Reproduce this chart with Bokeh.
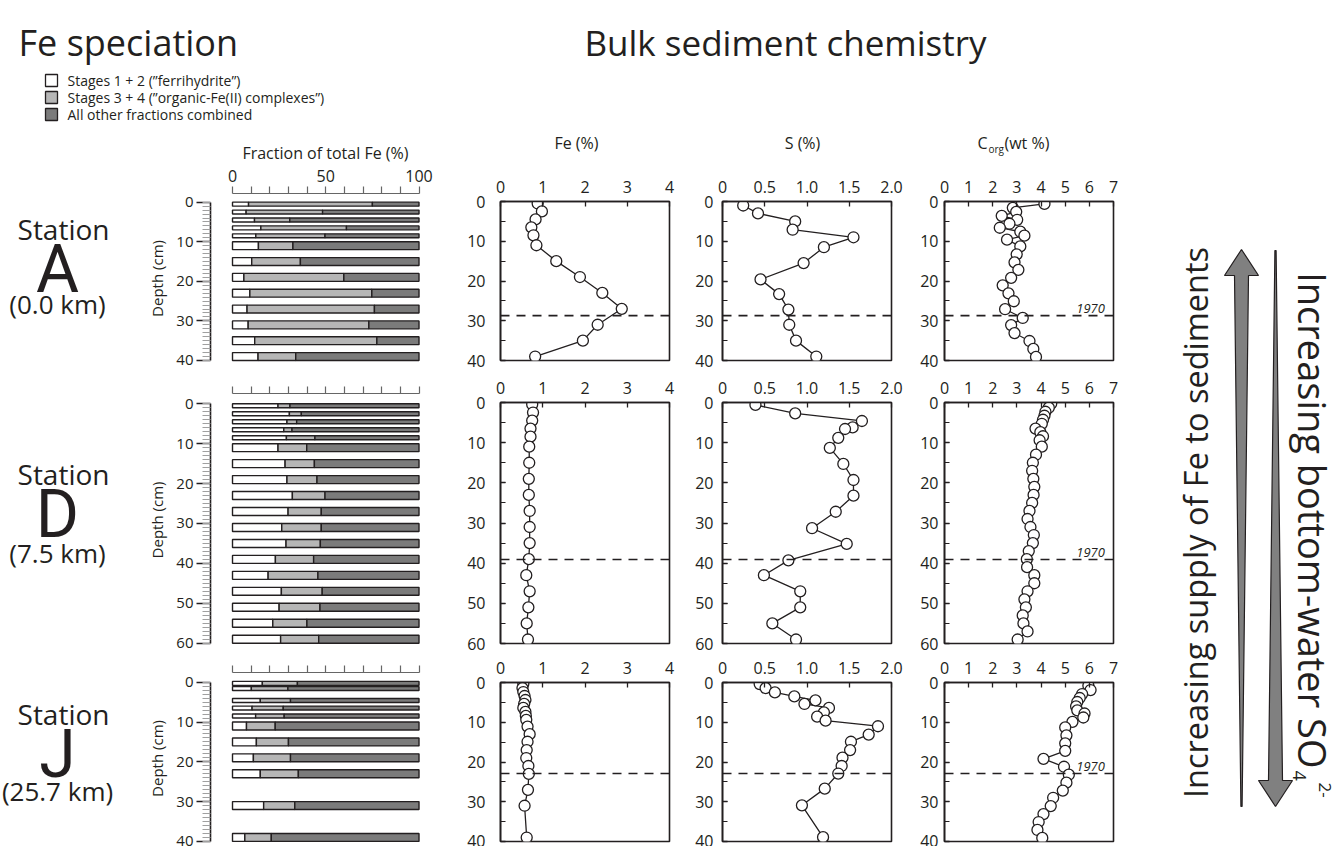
import math
from bokeh.plotting import figure
from bokeh.models import Range1d, FixedTicker, Span, Label, PrintfTickFormatter, ColumnDataSource
from bokeh.layouts import row, column
from bokeh.embed import file_html
from bokeh.resources import INLINE
from bokeh.core.properties import value

FONT = "Open Sans"
BIG_FONT = "Roboto"
INK = "#231f20"
WHITE_FILL = "#ffffff"
LIGHT_FILL = "#b6b6b6"
DARK_FILL = "#7b7b7b"

# ---------------- data ----------------
# Fe speciation bars: depth centre (cm), sample thickness (cm), stages 1+2 (%), stages 3+4 (%)
a_bar_depth = [0.5, 2.5, 4.5, 6.5, 8.5, 11, 15, 19, 23, 27, 31, 35, 39]
a_bar_thick = [1, 1, 1, 1, 1, 2, 2, 2, 2, 2, 2, 2, 2]
a_st12 = [8.6, 7.3, 11.8, 15.2, 12.5, 13.9, 10.3, 6.1, 9.3, 7.8, 8.4, 11.9, 13.7]
a_st34 = [66.4, 41.0, 18.9, 45.9, 37.1, 18.5, 26.1, 53.6, 65.4, 68.3, 64.7, 65.5, 20.2]

d_bar_depth = [0.5, 2.5, 4.5, 6.5, 8.5, 11, 15, 19, 23, 27, 31, 35, 39, 43, 47, 51, 55, 59]
d_bar_thick = [1, 1, 1, 1, 1, 2, 2, 2, 2, 2, 2, 2, 2, 2, 2, 2, 2, 2]
d_st12 = [24.4, 30.5, 29.2, 27.5, 28.9, 24.4, 28.2, 29.2, 32.1, 29.8, 26.4, 28.7, 23.0, 19.1, 26.2, 25.0, 21.6, 25.8]
d_st34 = [6.4, 6.4, 5.2, 4.4, 15.3, 15.4, 15.7, 16.1, 17.5, 17.8, 21.2, 18.4, 20.5, 26.7, 21.9, 21.9, 18.3, 20.4]

j_bar_depth = [0.3, 1.6, 4.6, 6.5, 8.5, 11, 15, 19, 23, 31, 39]
j_bar_thick = [1, 1, 1, 1, 1, 2, 2, 2, 2, 2, 2]
j_st12 = [16.0, 10.1, 14.9, 10.5, 12.4, 7.5, 12.8, 11.2, 14.9, 16.7, 6.6]
j_st34 = [18.8, 19.6, 16.2, 16.7, 15.3, 15.4, 17.2, 19.9, 20.4, 16.7, 14.2]

# Bulk chemistry profiles
a_fe_depth = [0.5, 2.5, 4.5, 6.5, 8.5, 11, 15, 19, 23, 27, 31, 35, 39]
a_fe = [0.88, 0.98, 0.83, 0.73, 0.78, 0.85, 1.32, 1.88, 2.41, 2.87, 2.30, 1.95, 0.82]
a_s_depth = [1.0, 3.0, 5.0, 7.1, 9.0, 11.5, 15.5, 19.6, 23.3, 27.2, 31.0, 35.0, 39.0]
a_s = [0.245, 0.42, 0.86, 0.83, 1.55, 1.20, 0.96, 0.45, 0.67, 0.78, 0.79, 0.87, 1.11]
a_c_depth = [0.6, 1.6, 2.6, 3.6, 4.6, 5.6, 6.6, 7.6, 8.6, 9.6, 11.3, 13.3, 15.3, 17.2, 19.2,
             21.1, 23.1, 25.1, 27.1, 29.3, 31.1, 33.1, 35.1, 37.1, 39.1]
a_c = [4.14, 2.83, 2.97, 2.37, 3.01, 2.69, 2.29, 3.14, 3.31, 2.59, 3.14, 2.99, 2.90, 3.06, 2.76,
       2.41, 2.65, 2.87, 2.51, 3.24, 2.76, 2.90, 3.52, 3.68, 3.79]

d_fe_depth = [0.5, 2.5, 4.5, 6.5, 8.5, 11, 15, 19, 23, 27, 31, 35, 39, 43, 47, 51, 55, 59]
d_fe = [0.75, 0.77, 0.75, 0.71, 0.71, 0.68, 0.68, 0.67, 0.67, 0.69, 0.69, 0.69, 0.67, 0.61, 0.69, 0.66, 0.62, 0.65]
d_s_depth = [0.6, 2.7, 4.6, 6.2, 6.6, 8.8, 11.3, 15.3, 19.3, 23.2, 27.2, 31.3, 35.2, 39.3, 43.0, 47.0, 51.0, 55.0, 59.0]
d_s = [0.39, 0.86, 1.65, 1.54, 1.45, 1.37, 1.27, 1.43, 1.55, 1.55, 1.34, 1.06, 1.47, 0.78, 0.49, 0.92, 0.92, 0.59, 0.87]
d_c_depth = [0.3, 1.3, 2.3, 3.3, 4.3, 5.3, 6.5, 7.4, 8.4, 9.4, 11, 13, 15, 17, 19, 21, 23, 25, 27, 29,
             31, 33, 35, 37, 39, 41, 43, 45, 47, 49, 51, 53, 55, 57, 59]
d_c = [4.42, 4.32, 4.18, 4.14, 4.08, 4.03, 3.77, 3.97, 4.08, 3.94, 4.03, 3.79, 3.66, 3.63, 3.68, 3.72, 3.69,
       3.63, 3.52, 3.44, 3.56, 3.70, 3.66, 3.49, 3.41, 3.42, 3.72, 3.72, 3.44, 3.31, 3.37, 3.24, 3.27, 3.44, 3.03]

j_fe_depth = [0.4, 1.4, 2.4, 3.4, 4.4, 5.4, 6.4, 7.4, 8.4, 9.4, 11.1, 13, 14.9, 17, 19, 21, 23, 27, 31, 39]
j_fe = [0.54, 0.52, 0.54, 0.57, 0.59, 0.56, 0.54, 0.59, 0.60, 0.61, 0.64, 0.69, 0.64, 0.62, 0.61, 0.66, 0.67, 0.65, 0.57, 0.62]
j_s_depth = [0.4, 1.4, 2.5, 3.5, 4.5, 5.4, 6.4, 7.5, 8.6, 9.6, 11, 13.1, 14.9, 17, 18.9, 21, 22.9, 26.7, 30.9, 38.9]
j_s = [0.44, 0.51, 0.62, 0.85, 1.10, 0.97, 1.26, 1.20, 1.12, 1.22, 1.84, 1.73, 1.52, 1.51, 1.42, 1.41, 1.37, 1.21, 0.94, 1.19]
j_c_depth = [0.8, 1.9, 2.9, 3.9, 4.9, 6.0, 7.0, 7.8, 8.8, 9.9, 11.3, 13.3, 15.3, 17.2, 19.2, 21.2, 23.2,
             25.2, 27.2, 29.0, 31.1, 33.1, 35.1, 37.1, 39.1]
j_c = [5.96, 6.05, 5.7, 5.6, 5.5, 5.45, 5.5, 5.8, 5.75, 5.3, 5.0, 5.05, 5.0, 5.0, 4.1, 4.95, 5.15,
       5.05, 4.9, 4.5, 4.4, 4.1, 3.9, 3.85, 4.05]

# depth of the 1970 horizon (cm)
a_1970 = 28.7
d_1970 = 39.1
j_1970 = 22.9

fe_ticks = [0, 1, 2, 3, 4]
s_ticks = [0, 0.5, 1.0, 1.5, 2.0]
c_ticks = [0, 1, 2, 3, 4, 5, 6, 7]
bar_ticks = list(range(0, 101, 10))

legend_labels = ["Stages 1 + 2 (\u201dferrihydrite\u201d)",
                 "Stages 3 + 4 (\u201dorganic-Fe(II) complexes\u201d)",
                 "All other fractions combined"]


# ---------------- helpers ----------------
def canvas(w, h, flip=True):
    p = figure(width=w, height=h, x_range=Range1d(0, w),
               y_range=Range1d(h, 0) if flip else Range1d(0, h),
               x_axis_type=None, y_axis_type=None, output_backend="svg",
               toolbar_location=None, min_border=0, title=None, frame_align=False)
    p.grid.visible = False
    p.outline_line_color = None
    p.background_fill_color = "white"
    p.border_fill_color = "white"
    return p


def txt(p, x, y, s, size, align="center", baseline="middle", angle=0, style="normal", font=FONT):
    p.text(x=[x], y=[y], text=[s], text_font=value(font), text_font_size=size,
           text_align=align, text_baseline=baseline, angle=angle, text_color=INK,
           text_font_style=style)


def bar_panel(depth, thick, s12, s34, dmax, height, bt, bb, ytop, ybot, labels):
    e34 = [a + b for a, b in zip(s12, s34)]
    src = ColumnDataSource(dict(y=depth, h=thick, r0=s12, r1=e34, r2=[100] * len(depth)))
    p = figure(width=302, height=height, x_range=Range1d(-11.8, 100.8),
               y_range=Range1d(ybot, ytop), x_axis_location="above",
               output_backend="svg", toolbar_location=None, title=None, frame_align=False,
               min_border_left=72, min_border_right=20, min_border_top=bt, min_border_bottom=bb)
    p.grid.visible = False
    p.outline_line_color = None
    p.hbar(y="y", height="h", left=0, right="r0", source=src, fill_color=WHITE_FILL,
           line_color=INK, line_width=1.4)
    p.hbar(y="y", height="h", left="r0", right="r1", source=src, fill_color=LIGHT_FILL,
           line_color=INK, line_width=1.4)
    p.hbar(y="y", height="h", left="r1", right="r2", source=src, fill_color=DARK_FILL,
           line_color=INK, line_width=1.4)
    xa = p.xaxis[0]
    xa.ticker = FixedTicker(ticks=bar_ticks)
    xa.bounds = (0, 100)
    xa.major_tick_in = 0
    xa.major_tick_out = 7
    xa.minor_tick_line_color = None
    xa.axis_line_color = "#666666"
    xa.major_tick_line_color = "#666666"
    xa.axis_line_width = 1.2
    xa.major_tick_line_width = 1.2
    if labels:
        xa.major_label_overrides = {t: "" for t in bar_ticks if t not in (0, 50, 100)}
    else:
        xa.major_label_overrides = {t: "" for t in bar_ticks}
    xa.major_label_text_font = FONT
    xa.major_label_text_font_size = "16px"
    xa.major_label_text_color = INK
    xa.major_label_standoff = 5
    ya = p.yaxis[0]
    ya.ticker = FixedTicker(ticks=list(range(0, dmax + 1, 10)), minor_ticks=list(range(0, dmax + 1)))
    ya.bounds = (0, dmax)
    ya.major_tick_in = 0
    ya.major_tick_out = 14
    ya.minor_tick_in = 0
    ya.minor_tick_out = 8
    ya.minor_tick_line_color = "#a0a0a0"
    ya.axis_line_width = 1.6
    ya.major_tick_line_width = 1.6
    ya.axis_line_color = INK
    ya.major_tick_line_color = INK
    ya.major_label_text_font = FONT
    ya.major_label_text_font_size = "15px"
    ya.major_label_text_color = INK
    ya.major_label_standoff = 3
    ya.axis_label = "Depth (cm)"
    ya.axis_label_text_font = FONT
    ya.axis_label_text_font_size = "15px"
    ya.axis_label_text_font_style = "normal"
    ya.axis_label_text_color = INK
    ya.axis_label_standoff = 6
    return p


def data_panel(xs, ds, xmax, ticks, dmax, dash, width, bl, br, height, bt, bb,
               ystand, fmt=None, overrides=None, tag=None):
    p = figure(width=width, height=height, x_range=Range1d(0, xmax), y_range=Range1d(dmax, 0),
               x_axis_location="above", output_backend="svg", toolbar_location=None, title=None,
               frame_align=False,
               min_border_left=bl, min_border_right=br, min_border_top=bt, min_border_bottom=bb)
    p.grid.visible = False
    p.outline_line_color = INK
    p.outline_line_width = 1.6
    p.add_layout(Span(location=dash, dimension="width", line_color=INK, line_width=1.6,
                      line_dash="9 7"))
    p.line(xs, ds, line_color=INK, line_width=1.3)
    p.scatter(xs, ds, size=11, fill_color="white", line_color=INK, line_width=1.3)
    if tag:
        p.add_layout(Label(x=tag, y=dash - 0.6, text="1970", text_font=FONT,
                           text_font_size="13px", text_font_style="italic", text_color=INK,
                           text_align="center", text_baseline="bottom"))
    xa = p.xaxis[0]
    xa.ticker = FixedTicker(ticks=ticks)
    if fmt:
        xa.formatter = fmt
    if overrides:
        xa.major_label_overrides = overrides
    xa.major_tick_in = 5
    xa.major_tick_out = 0
    xa.minor_tick_line_color = None
    xa.axis_line_color = INK
    xa.axis_line_width = 1.6
    xa.major_tick_line_color = INK
    xa.major_tick_line_width = 1.3
    xa.major_label_text_font = FONT
    xa.major_label_text_font_size = "16px"
    xa.major_label_text_color = INK
    xa.major_label_standoff = 9
    ya = p.yaxis[0]
    ya.ticker = FixedTicker(ticks=list(range(0, dmax + 1, 10)),
                            minor_ticks=list(range(0, dmax + 1, 5)))
    ya.major_tick_in = 5
    ya.major_tick_out = 0
    ya.minor_tick_in = 5
    ya.minor_tick_out = 0
    ya.axis_line_color = INK
    ya.axis_line_width = 1.6
    ya.major_tick_line_color = INK
    ya.minor_tick_line_color = INK
    ya.major_tick_line_width = 1.3
    ya.minor_tick_line_width = 1.1
    ya.major_label_text_font = FONT
    ya.major_label_text_font_size = "16px"
    ya.major_label_text_color = INK
    ya.major_label_standoff = ystand
    return p


def station_label(height, name, km, y_st, y_big, y_km):
    p = canvas(138, height)
    txt(p, 63, y_st, "Station", "28px")
    txt(p, 57, y_big, name, "66px", font=BIG_FONT)
    txt(p, 57, y_km, km, "26px")
    return p


def station_row(height, name, km, ys, bar_args, profile_sets, dmax, dash, bt, bb):
    lab = station_label(height, name, km, *ys)
    bar = bar_panel(*bar_args)
    (fe_x, fe_d), (s_x, s_d), (c_x, c_d) = profile_sets
    fe = data_panel(fe_x, fe_d, 4, fe_ticks, dmax, dash, 250, 60, 21, height, bt, bb, 15)
    s = data_panel(s_x, s_d, 2.0, s_ticks, dmax, dash, 225, 32, 24, height, bt, bb, 9,
                   fmt=PrintfTickFormatter(format="%.1f"), overrides={0: "0"})
    c = data_panel(c_x, c_d, 7, c_ticks, dmax, dash, 215, 29, 17, height, bt, bb, 6, tag=6.05)
    return row(lab, bar, fe, s, c)


# ---------------- header ----------------
hdr = canvas(1130, 164)
txt(hdr, 18, 42, "Fe speciation", "36px", align="left")
txt(hdr, 785, 42, "Bulk sediment chemistry", "35px")
leg_y = [80, 97, 114]
hdr.rect(x=[51, 51, 51], y=leg_y, width=12, height=12,
         fill_color=[WHITE_FILL, LIGHT_FILL, DARK_FILL], line_color=INK, line_width=1.3)
for yy, lab_s in zip(leg_y, legend_labels):
    txt(hdr, 67, yy, lab_s, "14px", align="left")
txt(hdr, 327, 152, "Fraction of total Fe  (%)", "16px")
txt(hdr, 576, 142, "Fe (%)", "16px")
txt(hdr, 802, 142, "S (%)", "16px")
txt(hdr, 987, 142, "C", "16px", align="right")
txt(hdr, 988, 148, "org", "10px", align="left")
txt(hdr, 1004, 142, "(wt %)", "16px", align="left")

# ---------------- station rows ----------------
rowA = station_row(206, "A", "(0.0 km)", (64, 104.5, 139),
                   (a_bar_depth, a_bar_thick, a_st12, a_st34, 40, 206, 29, 7, -2.19, 40.76, True),
                   ((a_fe, a_fe_depth), (a_s, a_s_depth), (a_c, a_c_depth)), 40, a_1970, 37, 10)
rowD = station_row(283, "D", "(7.5 km)", (103, 143.5, 182),
                   (d_bar_depth, d_bar_thick, d_st12, d_st34, 60, 283, 23, 7, -2.58, 60.83, False),
                   ((d_fe, d_fe_depth), (d_s, d_s_depth), (d_c, d_c_depth)), 60, d_1970, 32, 10)
rowJ = station_row(193, "J", "(25.7 km)", (60, 100.5, 137),
                   (j_bar_depth, j_bar_thick, j_st12, j_st34, 40, 193, 19, 2, -2.44, 40.78, False),
                   ((j_fe, j_fe_depth), (j_s, j_s_depth), (j_c, j_c_depth)), 40, j_1970, 29, 5)

# ---------------- right-hand arrows ----------------
RH = 846
rt = figure(width=207, height=RH, x_range=Range1d(1130, 1337), y_range=Range1d(0, RH),
            x_axis_type=None, y_axis_type=None, output_backend="svg",
            toolbar_location=None, min_border=0, title=None, frame_align=False)
rt.grid.visible = False
rt.outline_line_color = None


def fy(v):
    return RH - v


cx1, cx2 = 1241, 1275
up_x = [cx1, cx1 + 17, cx1 + 7, cx1 + 0.6, cx1 - 0.6, cx1 - 7, cx1 - 17]
up_y = [fy(249), fy(275), fy(275), fy(806), fy(806), fy(275), fy(275)]
dn_x = [cx2 - 0.6, cx2 + 0.6, cx2 + 7, cx2 + 17, cx2, cx2 - 17, cx2 - 7]
dn_y = [fy(250), fy(250), fy(780), fy(780), fy(806), fy(780), fy(780)]
rt.patch(up_x, up_y, fill_color="#808080", line_color=INK, line_width=1.2)
rt.patch(dn_x, dn_y, fill_color="#808080", line_color=INK, line_width=1.2)
rt.text(x=[1195], y=[fy(522)], text=["Increasing supply of Fe to sediments"],
        text_font=value(FONT), text_font_size="32.5px", text_align="center",
        text_baseline="middle", angle=math.pi / 2, text_color=INK)
rt.text(x=[1312], y=[fy(768)], text=["Increasing bottom-water SO"],
        text_font=value(FONT), text_font_size="38px", text_align="right",
        text_baseline="middle", angle=-math.pi / 2, text_color=INK)
rt.text(x=[1299], y=[fy(770)], text=["4"], text_font=value(FONT), text_font_size="18px",
        text_align="left", text_baseline="middle", angle=-math.pi / 2, text_color=INK)
rt.text(x=[1324], y=[fy(782)], text=["2-"], text_font=value(FONT), text_font_size="17px",
        text_align="left", text_baseline="middle", angle=-math.pi / 2, text_color=INK)

left_col = column(hdr, rowA, rowD, rowJ)
root = row(left_col, rt)

open("out.html", "w").write(file_html(root, INLINE))
